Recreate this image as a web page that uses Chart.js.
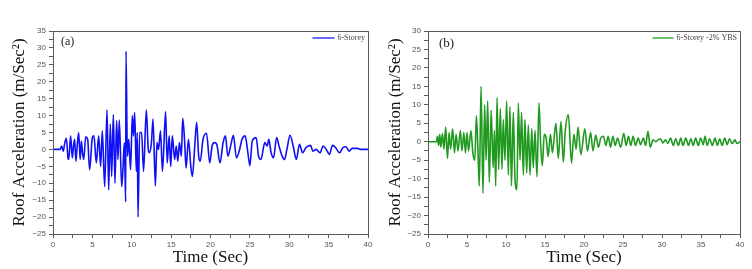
<!DOCTYPE html>
<html>
<head>
<meta charset="utf-8">
<script src="https://cdn.jsdelivr.net/npm/chart.js@4/dist/chart.umd.min.js"></script>
<style>
html,body{margin:0;padding:0;background:#fff;}
#wrap{position:relative;width:752px;height:269px;overflow:hidden;}
canvas{position:absolute;top:0;}
#ca{left:0;}
#cb{left:376px;}
</style>
</head>
<body>
<div id="wrap">
<canvas id="ca" width="376" height="269"></canvas>
<canvas id="cb" width="376" height="269"></canvas>
</div>
<script>
// ---- Data ----
const seriesALabel = "6-Storey";
const seriesBLabel = "6-Storey -2% YBS";
const panelALabel = "(a)";
const panelBLabel = "(b)";
const xTitle = "Time (Sec)";
const yTitle = "Roof Acceleration (m/Sec\u00B2)";

const timeA = [0,0.9,1.1,1.3,1.5,1.7,1.9,2.0,2.24,2.45,2.6,2.75,2.9,3.05,3.26,3.45,3.6,3.75,3.9,4.15,4.4,4.65,5.0,5.2,5.5,5.8,6.05,6.26,6.56,6.86,7.07,7.28,7.45,7.66,7.87,8.08,8.25,8.42,8.72,8.9,9.06,9.23,9.27,9.45,9.62,9.85,10.07,10.22,10.37,10.58,10.7,10.8,11.0,11.25,11.5,11.85,12.1,12.25,12.5,12.7,13.0,13.2,13.4,13.65,13.9,14.3,14.5,14.75,14.95,15.15,15.45,15.65,15.85,16.05,16.3,16.47,16.7,16.9,17.2,17.5,17.7,18.0,18.24,18.5,18.7,19.05,19.5,19.9,20.2,20.5,20.8,21.2,21.6,21.9,22.2,22.6,22.9,23.3,23.7,24.0,24.4,24.75,25.0,25.3,25.8,26.1,26.4,26.9,27.2,27.4,27.7,28.0,28.4,28.7,29.1,29.4,29.7,30.1,30.5,30.9,31.3,31.7,32.1,32.7,33.0,33.4,33.9,34.3,34.7,35.1,35.5,35.9,36.4,36.8,37.2,37.6,38.0,38.7,39.1,40];
const accelA = [0,0,1,-0.5,2,3.3,-2.5,-3,4,-2.5,1,3,-3.5,0.5,5,-3,2.5,-1,-3,3.7,3,-6,3.5,4,-4,4,-5,5.5,-11,11.7,-12,7.5,-8,10.3,-10,8.5,-3,8.7,-11,-5,2,-15.5,29,-2,3,-6,10,4,11,-6.5,5,-20,5,5,-6.5,11.7,0,-1,2,9,-10.8,2,0,5.5,-6.5,11.2,-4,4,-5,4,-3,1,-3.5,2,-2,9.2,3,-5.5,3,-5,-8,1,8,-2,-3.5,3,4.8,-4,1,2,1.5,-4,2,4,-2,1.5,4.2,-2.5,0,3,4,-1,-4.8,2.5,3.5,-2,-3,2,1,3,-1,-2.5,3.5,1,-2,-3,0,4.2,1,-3,1.5,-1,0.5,1.2,-0.5,0,-1,1,0,-1.5,1.2,0.5,-1,0.5,0.8,-0.5,0.3,0.3,0,0];

const timeB = [0,1.1,1.2,1.35,1.5,1.65,1.85,2.05,2.26,2.5,2.7,2.9,3.16,3.4,3.6,3.85,4.15,4.35,4.6,4.8,5.0,5.2,5.5,5.75,6.0,6.2,6.4,6.58,6.8,7.05,7.26,7.45,7.65,7.86,8.1,8.35,8.52,8.68,8.85,9.06,9.27,9.48,9.65,9.87,10.08,10.3,10.5,10.7,10.94,11.15,11.4,11.58,11.8,12.0,12.22,12.43,12.65,12.86,13.08,13.3,13.5,13.72,13.97,14.23,14.45,14.66,14.9,15.15,15.4,15.7,15.95,16.4,16.7,17.05,17.35,17.6,18.0,18.4,18.7,19.0,19.23,19.6,20.1,20.45,20.85,21.15,21.5,21.85,22.15,22.5,22.8,23.1,23.4,23.7,24.0,24.3,24.7,25.1,25.4,25.7,26.0,26.3,26.6,26.95,27.25,27.6,27.9,28.2,28.5,28.85,29.2,29.5,29.8,30.1,30.45,30.75,31.1,31.45,31.75,32.1,32.4,32.7,33.05,33.4,33.7,34.0,34.3,34.65,34.95,35.3,35.5,35.8,36.1,36.45,36.8,37.1,37.4,37.7,38.05,38.35,38.65,39.0,39.35,39.6,40];
const accelB = [0,0,1.5,-1,2,-1.5,2.2,-2,4,-4.5,2.5,-2,3.5,-3,2,-2.5,3,-2.5,2.5,-3,2.5,-2.5,3,-3,-5,7,-2,-12,15,-14,10,-5,11,-11,8.5,-7,3,-12,12,-7.5,9,-7.5,6,-5,11,-9,9.5,-12,8,-10,-13,10.5,-5,8,-9,6,-8.5,4.5,-9,3.5,-7,3,-9.5,10.5,-1,-6.5,2,1,-4,2,-3,5,-4.5,5.5,-5.5,3,7.3,-5.8,2,-2,4,-3.5,3.5,-2.5,2.5,-2.5,1.8,-1.5,1,1.5,-1,1.5,-1.5,1.5,-1,1,-1.5,2.3,-1,1.5,-1,1.5,-1,1,-0.8,1,-1,2.8,-1.5,0.5,0,0.5,0.8,-0.3,0.5,-0.5,1,-1,0.8,-1,1,-1,1,-1,0.8,-1,1,-1,1,-0.8,1.5,-1,0.8,-1,1,-1,0.8,-1,1,-0.8,0.8,-0.5,0.5,-0.5,0];

const xTicks = [0,5,10,15,20,25,30,35,40];
const yTicksA = [-25,-20,-15,-10,-5,0,5,10,15,20,25,30,35];
const yTicksB = [-25,-20,-15,-10,-5,0,5,10,15,20,25,30];

// ---- Helpers ----
function pts(t, v){ return t.map((x,i)=>({x:x,y:v[i]})); }
const AXIS = '#5a5a5a';
const TICKFONT = {family:'Liberation Sans', size:8};
function fmt(v){ return v<0 ? '\u2212'+Math.abs(v) : String(v); }

function framePlugin(panelLabel, panelFont, panelPos, legendText, legendColor, legendLine){
  return {
    id:'frame',
    afterDraw(chart){
      const {ctx, chartArea:a} = chart;
      ctx.save();
      ctx.strokeStyle = AXIS;
      ctx.lineWidth = 1;
      ctx.strokeRect(Math.round(a.left)+0.5, Math.round(a.top)+0.5, Math.round(a.right-a.left), Math.round(a.bottom-a.top));
      // panel label
      ctx.fillStyle = '#222';
      ctx.font = panelFont;
      ctx.textBaseline = 'middle';
      ctx.textAlign = 'left';
      ctx.fillText(panelLabel, a.left+panelPos[0], a.top+panelPos[1]);
      // legend
      ctx.font = '8px "Liberation Serif"';
      ctx.textAlign = 'right';
      const tx = a.right - 3, ty = a.top + 7;
      ctx.fillStyle = '#444';
      ctx.fillText(legendText, tx, ty);
      const w = ctx.measureText(legendText).width;
      ctx.strokeStyle = legendColor;
      ctx.lineWidth = 1.5;
      ctx.beginPath();
      ctx.moveTo(tx - w - 3 - legendLine, ty);
      ctx.lineTo(tx - w - 3, ty);
      ctx.stroke();
      ctx.restore();
    }
  };
}

function makeChart(id, label, data, color, yMin, yMax, yTicks, yWidth, padRight, plugin){
  return new Chart(document.getElementById(id), {
    type:'line',
    data:{datasets:[{label:label, data:data, borderColor:color, borderWidth:1.6, pointRadius:0, cubicInterpolationMode:'monotone', fill:false}]},
    options:{
      responsive:false, animation:false, events:[],
      layout:{padding:{top:31, right:padRight, left:0, bottom:0}},
      plugins:{legend:{display:false}, tooltip:{enabled:false}},
      scales:{
        x:{type:'linear', min:0, max:40,
           afterBuildTicks(s){ const t=[]; for(let v=0; v<=40; v+=2.5) t.push({value:v}); s.ticks=t; },
           afterFit(s){ s.height = 35; },
           ticks:{autoSkip:false, maxRotation:0, font:TICKFONT, color:'#555', padding:2,
                  callback:(v)=> xTicks.includes(v) ? String(v) : ''},
           grid:{drawOnChartArea:false, drawTicks:true, tickLength:4, color:AXIS},
           border:{display:true, color:AXIS},
           title:{display:true, text:xTitle, color:'#111', font:{family:'Liberation Serif', size:17, lineHeight:1}, padding:{top:0, bottom:3}}
        },
        y:{type:'linear', min:yMin, max:yMax,
           afterBuildTicks(s){ const t=[]; for(let v=yMin; v<=yMax; v+=2.5) t.push({value:v}); s.ticks=t; },
           afterFit(s){ s.width = yWidth; },
           ticks:{autoSkip:false, font:TICKFONT, color:'#555', padding:3,
                  callback:(v)=> yTicks.includes(v) ? fmt(v) : ''},
           grid:{drawOnChartArea:false, drawTicks:true, tickLength:4, color:AXIS},
           border:{display:true, color:AXIS},
           title:{display:true, text:yTitle, color:'#111', font:{family:'Liberation Serif', size:17, lineHeight:1}, padding:{top:11, bottom:0}}
        }
      }
    },
    plugins:[plugin]
  });
}

makeChart('ca', seriesALabel, pts(timeA, accelA), '#1010f5', -25, 35, yTicksA, 53, 8,
  framePlugin(panelALabel, '12px "Liberation Serif"', [8, 11], seriesALabel, '#3a3af5', 22));
makeChart('cb', seriesBLabel, pts(timeB, accelB), '#1f9a1f', -25, 30, yTicksB, 52, 12,
  framePlugin(panelBLabel, '13px "Liberation Serif"', [11, 13], seriesBLabel, '#3aaa3a', 21));
</script>
</body>
</html>
